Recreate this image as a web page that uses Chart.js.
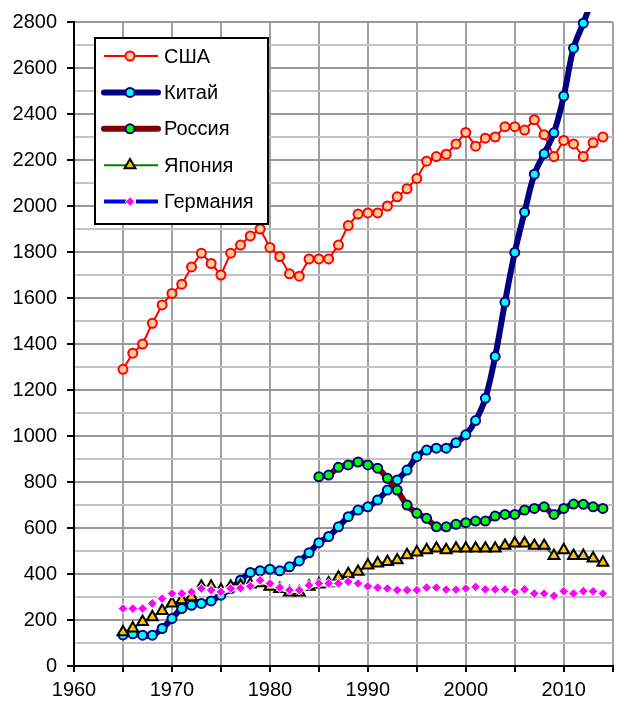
<!DOCTYPE html>
<html lang="ru">
  <head>
    <meta charset="UTF-8" />
    <title>Энергопотребление</title>
    <script src="https://cdn.jsdelivr.net/npm/chart.js"></script>
    <style>
      html, body { margin: 0; padding: 0; background: #fff; }
      canvas { display: block; }
    </style>
  </head>
  <body>
    <canvas id="energyChart" width="621" height="702"></canvas>
    <script>
      // years on the x axis
      const years = [
        1965, 1966, 1967, 1968, 1969, 1970, 1971, 1972, 1973, 1974,
        1975, 1976, 1977, 1978, 1979, 1980, 1981, 1982, 1983, 1984,
        1985, 1986, 1987, 1988, 1989, 1990, 1991, 1992, 1993, 1994,
        1995, 1996, 1997, 1998, 1999, 2000, 2001, 2002, 2003, 2004,
        2005, 2006, 2007, 2008, 2009, 2010, 2011, 2012, 2013, 2014
      ];

      const usa = [
        1290, 1360, 1400, 1490, 1570, 1620, 1660, 1735, 1795, 1750,
        1700, 1795, 1830, 1870, 1900, 1820, 1780, 1705, 1695, 1770,
        1770, 1770, 1830, 1915, 1965, 1970, 1970, 2000, 2040, 2075,
        2120, 2195, 2215, 2225, 2270, 2320, 2260, 2295, 2300, 2345,
        2345, 2330, 2375, 2310, 2215, 2285, 2270, 2215, 2275, 2300
      ];

      const china = [
        135, 140, 134, 134, 163, 206, 250, 264, 272, 283,
        308, 337, 373, 407, 414, 421, 414, 431, 457, 492,
        536, 563, 605, 649, 678, 692, 722, 765, 809, 852,
        910, 939, 947, 947, 971, 1005, 1067, 1164, 1346, 1581,
        1798, 1973, 2138, 2227, 2318, 2478, 2686, 2795, 2900, 2970
      ];

      const russia = [
        null, null, null, null, null, null, null, null, null, null,
        null, null, null, null, null, null, null, null, null, null,
        823, 830, 864, 874, 887, 874, 860, 816, 765, 700,
        664, 642, 605, 605, 616, 623, 630, 630, 652, 659,
        659, 678, 685, 692, 659, 685, 704, 703, 692, 685
      ];

      const japan = [
        147, 164, 192, 213, 240, 272, 286, 300, 345, 345,
        330, 345, 350, 355, 360, 345, 335, 320, 320, 345,
        355, 360, 385, 400, 410, 438, 446, 453, 460, 482,
        494, 504, 511, 504, 511, 511, 511, 511, 511, 523,
        533, 533, 523, 523, 479, 504, 479, 479, 468, 450
      ];

      const germany = [
        250, 250, 250, 272, 293, 315, 315, 322, 337, 330,
        322, 337, 338, 347, 373, 359, 341, 330, 330, 351,
        359, 359, 359, 366, 359, 347, 341, 337, 330, 330,
        330, 341, 341, 332, 332, 337, 344, 333, 333, 333,
        322, 333, 315, 315, 305, 325, 315, 325, 325, 315
      ];

      const seriesNames = ["США", "Китай", "Россия", "Япония", "Германия"];

      const FONT = "'Liberation Sans', Arial, sans-serif";

      function points(values) {
        return years.map((yr, i) => ({ x: yr, y: values[i] }));
      }

      // legend drawn inside the plot, like the original
      const legendLines = [
        { color: "#ff0000", width: 2, dash: [] },
        { color: "#000080", width: 6, dash: [] },
        { color: "#800000", width: 6, dash: [] },
        { color: "#008000", width: 2, dash: [] },
        { color: "#0000ff", width: 4, dash: [22, 10] },
      ];

      const insideLegend = {
        id: "insideLegend",
        afterDatasetsDraw(chart) {
          const ctx = chart.ctx;
          const box = { x: 95, y: 38, w: 173, h: 186 };
          ctx.save();
          ctx.fillStyle = "#fff";
          ctx.fillRect(box.x, box.y, box.w, box.h);
          ctx.strokeStyle = "#000";
          ctx.lineWidth = 2;
          ctx.strokeRect(box.x, box.y, box.w, box.h);

          chart.data.datasets.forEach((ds, i) => {
            const y = 56 + i * 36.4;
            const ln = legendLines[i];
            ctx.strokeStyle = ln.color;
            ctx.lineWidth = ln.width;
            ctx.lineCap = ln.width > 4 ? "round" : "butt";
            ctx.setLineDash(ln.dash);
            ctx.beginPath();
            ctx.moveTo(104, y);
            ctx.lineTo(158, y);
            ctx.stroke();
            ctx.setLineDash([]);

            ctx.fillStyle = ds.pointBackgroundColor;
            ctx.strokeStyle = ds.pointBorderColor;
            ctx.lineWidth = ds.pointBorderWidth;
            Chart.helpers.drawPoint(
              ctx,
              {
                pointStyle: ds.pointStyle,
                radius: ds.pointRadius,
                rotation: 0,
                borderWidth: ds.pointBorderWidth,
              },
              130,
              y
            );

            ctx.fillStyle = "#000";
            ctx.font = "20px " + FONT;
            ctx.textBaseline = "middle";
            ctx.textAlign = "left";
            ctx.fillText(ds.label, 164, y + 1);
          });
          ctx.restore();
        },
      };

      Chart.defaults.font.family = FONT;
      Chart.defaults.font.size = 20;
      Chart.defaults.color = "#000";

      const ctx = document.getElementById("energyChart").getContext("2d");

      new Chart(ctx, {
        type: "scatter",
        data: {
          datasets: [
            {
              label: seriesNames[0],
              data: points(usa),
              showLine: true,
              order: 5,
              borderColor: "#ff0000",
              borderWidth: 2,
              pointStyle: "circle",
              pointRadius: 4.5,
              pointBackgroundColor: "#ffcc99",
              pointBorderColor: "#ff0000",
              pointBorderWidth: 2,
            },
            {
              label: seriesNames[1],
              data: points(china),
              showLine: true,
              tension: 0.35,
              order: 4,
              clip: { left: 5, top: 10, right: 5, bottom: 5 },
              borderColor: "#000080",
              borderWidth: 6,
              pointStyle: "circle",
              pointRadius: 4.5,
              pointBackgroundColor: "#00ffff",
              pointBorderColor: "#000080",
              pointBorderWidth: 2,
            },
            {
              label: seriesNames[2],
              data: points(russia),
              showLine: true,
              tension: 0.35,
              order: 3,
              borderColor: "#800000",
              borderWidth: 6,
              pointStyle: "circle",
              pointRadius: 4.5,
              pointBackgroundColor: "#00ff00",
              pointBorderColor: "#000080",
              pointBorderWidth: 2,
            },
            {
              label: seriesNames[3],
              data: points(japan),
              showLine: true,
              order: 2,
              borderColor: "#008000",
              borderWidth: 2,
              pointStyle: "triangle",
              pointRadius: 6.3,
              pointBackgroundColor: "#ffc000",
              pointBorderColor: "#000",
              pointBorderWidth: 2,
            },
            {
              label: seriesNames[4],
              data: points(germany),
              showLine: true,
              order: 1,
              borderColor: "#ffffff",
              borderWidth: 6,
              pointStyle: "rectRot",
              pointRadius: 4.8,
              pointBackgroundColor: "#ff00ff",
              pointBorderColor: "#ffffff",
              pointBorderWidth: 1,
            },
          ],
        },
        options: {
          responsive: false,
          animation: false,
          events: [],
          devicePixelRatio: 1,
          layout: { padding: { top: 22, right: 0, bottom: 0, left: 0 } },
          plugins: {
            legend: { display: false },
            tooltip: { enabled: false },
          },
          scales: {
            x: {
              type: "linear",
              min: 1960,
              max: 2015,
              afterFit(scale) {
                scale.height = 36;
              },
              ticks: {
                stepSize: 5,
                autoSkip: false,
                maxRotation: 0,
                padding: 6,
                callback: (v) => (v % 10 === 0 ? String(v) : ""),
              },
              grid: {
                color: "#a0a0a0",
                lineWidth: 2,
                tickLength: 6,
                tickColor: "#000",
                tickWidth: 2,
              },
              border: { color: "#000", width: 2 },
            },
            y: {
              min: 0,
              max: 2800,
              afterFit(scale) {
                scale.width = 74;
              },
              ticks: {
                stepSize: 100,
                autoSkip: false,
                padding: 10,
                callback: (v) => (v % 200 === 0 ? String(v) : ""),
              },
              grid: {
                color: (c) => (c.tick.value % 200 === 0 ? "#999999" : "#c4c4c4"),
                lineWidth: 2,
                tickLength: 7,
                tickColor: (c) =>
                  c.tick.value % 200 === 0 ? "#000" : "rgba(0,0,0,0)",
                tickWidth: 2,
              },
              border: { color: "#000", width: 2 },
            },
          },
        },
        plugins: [insideLegend],
      });
    </script>
  </body>
</html>
